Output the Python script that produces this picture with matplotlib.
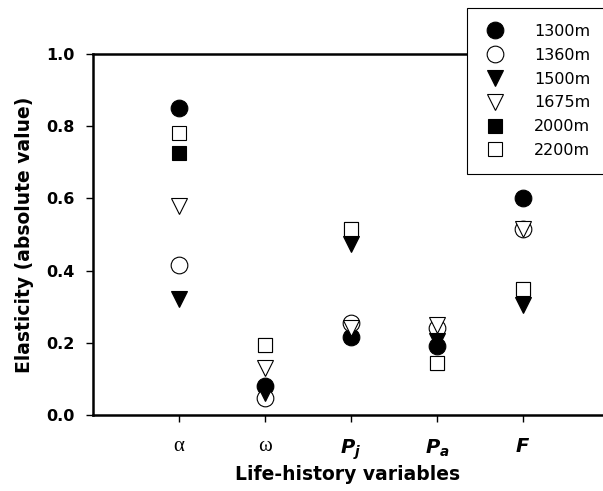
import numpy as np
import matplotlib
matplotlib.use("Agg")
import matplotlib.pyplot as plt

plt.rcParams['font.family'] = 'DejaVu Sans'
plt.rcParams['mathtext.fontset'] = 'custom'
plt.rcParams['mathtext.it'] = 'DejaVu Sans:bold:italic'
plt.rcParams['mathtext.rm'] = 'DejaVu Sans:bold'

# life-history variables on the x axis
variables = ['α', 'ω', '$P_j$', '$P_a$', '$F$']
xpos = np.arange(1, len(variables) + 1)

# elasticities per altitude population
e_1300 = [0.85, 0.08, 0.215, 0.19, 0.60]
e_1360 = [0.415, 0.048, 0.255, 0.24, 0.515]
e_1500 = [0.32, 0.06, 0.475, 0.205, 0.305]
e_1675 = [0.578, 0.13, 0.24, 0.248, 0.515]
e_2000 = [0.725, 0.195, 0.515, 0.145, 0.35]
e_2200 = [0.78, 0.195, 0.515, 0.145, 0.35]

series = [
    ('1300m', e_1300, 'o', 'black', 12),
    ('1360m', e_1360, 'o', 'white', 12),
    ('1500m', e_1500, 'v', 'black', 11.5),
    ('1675m', e_1675, 'v', 'white', 11.5),
    ('2000m', e_2000, 's', 'black', 10),
    ('2200m', e_2200, 's', 'white', 10),
]

fig = plt.figure(figsize=(6.03, 4.91), dpi=100)
ax = fig.add_axes([93 / 603, 1 - 415 / 491, 1 - 93 / 603, (415 - 54) / 491])

for label, vals, mk, face, ms in series:
    ax.plot(xpos, vals, linestyle='none', marker=mk, markersize=ms,
            markerfacecolor=face, markeredgecolor='black',
            markeredgewidth=0.8, label=label)

ax.set_xlim(0, 5.93)
ax.set_ylim(0, 1.0)
ax.set_yticks(np.arange(0, 1.01, 0.2))
ax.set_yticklabels([f'{v:.1f}' for v in np.arange(0, 1.01, 0.2)],
                   fontsize=11.5, fontweight='bold')
ax.set_xticks(xpos)
ax.set_xticklabels(variables, fontsize=14)
for i, t in enumerate(ax.get_xticklabels()):
    if i < 2:
        t.set_family('Liberation Serif')
        t.set_fontsize(15)

ax.tick_params(axis='both', direction='out', length=5, width=1)
ax.tick_params(axis='x', pad=11)
ax.tick_params(axis='y', pad=8)
for side in ['left', 'bottom', 'top']:
    ax.spines[side].set_linewidth(1.8)
ax.spines['right'].set_visible(False)

ax.set_ylabel('Elasticity (absolute value)', fontsize=13.5, fontweight='bold',
              labelpad=9)
ax.set_xlabel('Life-history variables', fontsize=13.5, fontweight='bold',
              labelpad=2)

# legend box runs off the right edge of the figure
leg = fig.legend(loc='upper left',
                 bbox_to_anchor=(467 / 603, 0, 150 / 603, 1 - 8 / 491),
                 mode='expand', borderaxespad=0, fontsize=11.5, frameon=True,
                 fancybox=False, framealpha=1, edgecolor='black',
                 labelspacing=0.55, handletextpad=1.7, borderpad=1.0,
                 handlelength=1.5)
leg.get_frame().set_linewidth(0.8)

fig.savefig('out.png', dpi=100)
